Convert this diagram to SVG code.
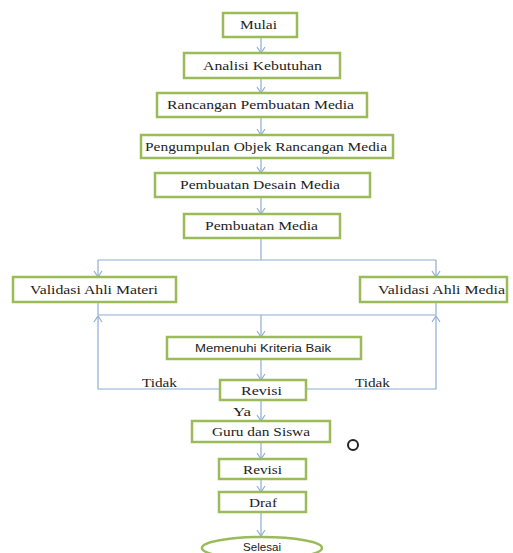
<svg xmlns="http://www.w3.org/2000/svg" width="513" height="553" viewBox="0 0 513 553">
<style>
.box{fill:#ffffff;stroke:#9bbb59;stroke-width:2.5}
.t{font-family:"Liberation Serif","DejaVu Serif",serif;font-size:13px;fill:#222}
.s{font-family:"Liberation Sans","DejaVu Sans",sans-serif;font-size:11px;fill:#222}
.c{fill:none;stroke:#8eaed6;stroke-width:1.2}
</style>
<defs>
<marker id="a" markerWidth="10" markerHeight="10" refX="9" refY="5" orient="auto" markerUnits="userSpaceOnUse">
<path d="M3,1 L9,5 L3,9" fill="none" stroke="#8eaed6" stroke-width="1.2"/>
</marker>
</defs>
<rect width="513" height="553" fill="#ffffff"/>
<g id="connectors">
<line class="c" x1="261" y1="37" x2="261" y2="53" marker-end="url(#a)"/>
<line class="c" x1="261" y1="78" x2="261" y2="93" marker-end="url(#a)"/>
<line class="c" x1="261" y1="117" x2="261" y2="135" marker-end="url(#a)"/>
<line class="c" x1="261" y1="158" x2="261" y2="173" marker-end="url(#a)"/>
<line class="c" x1="261" y1="197" x2="261" y2="214" marker-end="url(#a)"/>
<line class="c" x1="261" y1="238" x2="261" y2="260"/>
<line class="c" x1="98" y1="260" x2="436" y2="260"/>
<line class="c" x1="98" y1="260" x2="98" y2="277" marker-end="url(#a)"/>
<line class="c" x1="436" y1="260" x2="436" y2="277" marker-end="url(#a)"/>
<line class="c" x1="98" y1="302" x2="98" y2="315"/>
<line class="c" x1="436" y1="302" x2="436" y2="315"/>
<line class="c" x1="98" y1="315" x2="436" y2="315"/>
<line class="c" x1="261" y1="315" x2="261" y2="337" marker-end="url(#a)"/>
<line class="c" x1="261" y1="359" x2="261" y2="380" marker-end="url(#a)"/>
<polyline class="c" points="220,389 98,389 98,316" marker-end="url(#a)"/>
<polyline class="c" points="306,389 436,389 436,316" marker-end="url(#a)"/>
<line class="c" x1="261" y1="400" x2="261" y2="421" marker-end="url(#a)"/>
<line class="c" x1="261" y1="442" x2="261" y2="459" marker-end="url(#a)"/>
<line class="c" x1="261" y1="479" x2="261" y2="492" marker-end="url(#a)"/>
<line class="c" x1="261" y1="512" x2="261" y2="536" marker-end="url(#a)"/>
<text class="t" x="142" y="387" textLength="35" lengthAdjust="spacingAndGlyphs">Tidak</text>
<text class="t" x="355" y="387" textLength="35" lengthAdjust="spacingAndGlyphs">Tidak</text>
<text class="t" x="233" y="416" textLength="18" lengthAdjust="spacingAndGlyphs">Ya</text>
</g>
<g id="mulai"><rect class="box" x="223" y="13" width="74" height="24"/><text class="t" x="240" y="29" textLength="37" lengthAdjust="spacingAndGlyphs">Mulai</text></g>
<g id="analisi"><rect class="box" x="184" y="53" width="156" height="25"/><text class="t" x="203" y="70" textLength="119" lengthAdjust="spacingAndGlyphs">Analisi Kebutuhan</text></g>
<g id="rancangan"><rect class="box" x="157" y="93" width="210" height="24"/><text class="t" x="167" y="109" textLength="187" lengthAdjust="spacingAndGlyphs">Rancangan Pembuatan Media</text></g>
<g id="pengumpulan"><rect class="box" x="141" y="135" width="252" height="23"/><text class="t" x="145" y="151" textLength="242" lengthAdjust="spacingAndGlyphs">Pengumpulan Objek Rancangan Media</text></g>
<g id="desain"><rect class="box" x="155" y="173" width="215" height="24"/><text class="t" x="180" y="189" textLength="160" lengthAdjust="spacingAndGlyphs">Pembuatan Desain Media</text></g>
<g id="pembuatan"><rect class="box" x="184" y="214" width="156" height="24"/><text class="t" x="205" y="230" textLength="113" lengthAdjust="spacingAndGlyphs">Pembuatan Media</text></g>
<g id="materi"><rect class="box" x="13" y="277" width="163" height="25"/><text class="t" x="30" y="294" textLength="128" lengthAdjust="spacingAndGlyphs">Validasi Ahli Materi</text></g>
<g id="media"><rect class="box" x="360" y="277" width="147" height="25"/><text class="t" x="378" y="294" textLength="127" lengthAdjust="spacingAndGlyphs">Validasi Ahli Media</text></g>
<g id="kriteria"><rect class="box" x="167" y="337" width="194" height="22"/><text class="s" x="195" y="352" textLength="136" lengthAdjust="spacingAndGlyphs">Memenuhi Kriteria Baik</text></g>
<g id="revisi1"><rect class="box" x="220" y="380" width="86" height="20"/><text class="t" x="241" y="395" textLength="41" lengthAdjust="spacingAndGlyphs">Revisi</text></g>
<g id="guru"><rect class="box" x="192" y="421" width="138" height="21"/><text class="t" x="212" y="436" textLength="98" lengthAdjust="spacingAndGlyphs">Guru dan Siswa</text></g>
<g id="circle"><circle cx="353" cy="445" r="5" fill="none" stroke="#222" stroke-width="2"/></g>
<g id="revisi2"><rect class="box" x="219" y="459" width="87" height="20"/><text class="t" x="243" y="474" textLength="39" lengthAdjust="spacingAndGlyphs">Revisi</text></g>
<g id="draf"><rect class="box" x="219" y="492" width="87" height="20"/><text class="t" x="249" y="507" textLength="28" lengthAdjust="spacingAndGlyphs">Draf</text></g>
<g id="selesai"><ellipse class="box" cx="262" cy="548" rx="60" ry="11"/><text class="s" x="243" y="551" textLength="38" lengthAdjust="spacingAndGlyphs" font-size="10">Selesai</text></g>
</svg>
